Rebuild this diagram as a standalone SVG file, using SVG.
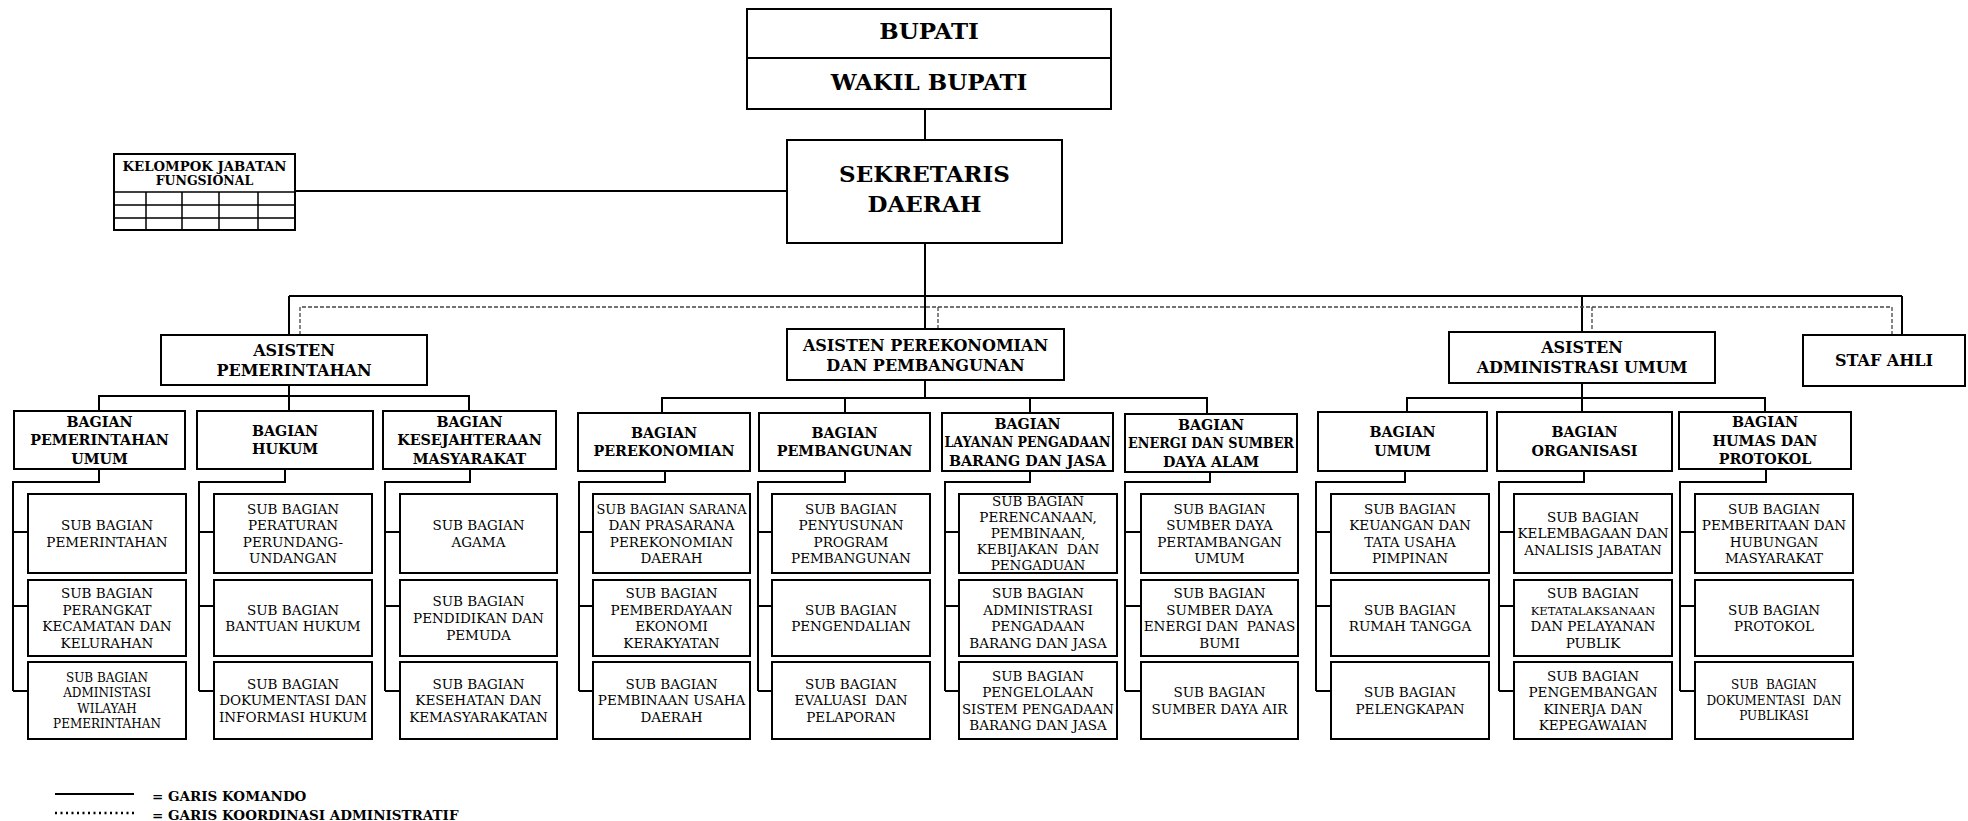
<svg xmlns="http://www.w3.org/2000/svg" width="1968" height="821" viewBox="0 0 1968 821">
<style>
.box{fill:#fff;stroke:#000;stroke-width:2}
.ln{fill:none;stroke:#000;stroke-width:2}
.thin{fill:none;stroke:#000;stroke-width:1.5}
.dash{fill:none;stroke:#444;stroke-width:1.3;stroke-dasharray:4 2}
.dot{fill:none;stroke:#000;stroke-width:2.5;stroke-dasharray:2 3.5}
text{font-family:"DejaVu Serif","Liberation Serif",serif;fill:#000;text-anchor:middle}
.big{font-weight:bold;font-size:23px}
.kj{font-weight:bold;font-size:12.5px}
.as{font-weight:bold;font-size:16px}
.hb{font-weight:bold;font-size:14.3px}
.st{font-size:13.5px}
.sm{font-size:12px}
.pre{white-space:pre}
.lg{font-weight:bold;font-size:13.5px;text-anchor:start}
</style>
<rect width="1968" height="821" fill="#fff"/>

<g id="connectors">
<path class="ln" d="M925 109V140 M925 243V329 M295 191H787 M289 296H1902 M289 296V335 M1582 296V332 M1902 296V335"/>
<path class="dash" d="M300 335V307H1892V335 M938 307V329 M1592 307V332"/>
<path class="ln" d="M289 385V411 M99 411V396H469V411"/>
<path class="ln" d="M925 380V398 M662 413V398H1207V414 M845 398V413 M1030 398V413"/>
<path class="ln" d="M1582 383V412 M1407 412V398H1765V412"/>
<path class="ln" d="M99 469V482H13V691 M13 532H28 M13 606H28 M13 691H28"/>
<path class="ln" d="M285 469V482H199V691 M199 532H214 M199 606H214 M199 691H214"/>
<path class="ln" d="M470 469V482H385V691 M385 532H400 M385 606H400 M385 691H400"/>
<path class="ln" d="M665 471V482H579V691 M579 532H593 M579 606H593 M579 691H593"/>
<path class="ln" d="M845 471V482H758V691 M758 532H772 M758 606H772 M758 691H772"/>
<path class="ln" d="M1030 471V482H945V691 M945 532H959 M945 606H959 M945 691H959"/>
<path class="ln" d="M1210 472V482H1125V691 M1125 532H1141 M1125 606H1141 M1125 691H1141"/>
<path class="ln" d="M1405 471V482H1316V691 M1316 532H1331 M1316 606H1331 M1316 691H1331"/>
<path class="ln" d="M1584 471V482H1499V691 M1499 532H1514 M1499 606H1514 M1499 691H1514"/>
<path class="ln" d="M1766 469V482H1680V691 M1680 532H1695 M1680 606H1695 M1680 691H1695"/>
</g>

<g id="n-bupati">
<rect class="box" x="747" y="9" width="364" height="100"/>
<line class="ln" x1="747" y1="58" x2="1111" y2="58"/>
<text class="big" x="929" y="39">BUPATI</text>
<text class="big" x="929" y="90">WAKIL BUPATI</text>
</g>
<g id="n-sekda">
<rect class="box" x="787" y="140" width="275" height="103"/>
<text class="big" x="924.5" y="182">SEKRETARIS</text>
<text class="big" x="924.5" y="212">DAERAH</text>
</g>
<g id="n-kjf">
<rect class="box" x="114" y="154" width="181" height="76"/>
<path class="thin" d="M114 192H295 M114 205H295 M114 218H295 M146 192V230 M182 192V230 M219 192V230 M258 192V230"/>
<text class="kj" x="204.5" y="171" textLength="164" lengthAdjust="spacingAndGlyphs">KELOMPOK JABATAN</text>
<text class="kj" x="204.5" y="185">FUNGSIONAL</text>
</g>

<g id="n-as-pem">
<rect class="box" x="161" y="335" width="266" height="50"/>
<text class="as" x="294" y="356">ASISTEN</text>
<text class="as" x="294" y="376">PEMERINTAHAN</text>
</g>
<g id="n-as-perek">
<rect class="box" x="787" y="329" width="277" height="51"/>
<text class="as" x="925.5" y="351">ASISTEN PEREKONOMIAN</text>
<text class="as" x="925.5" y="371">DAN PEMBANGUNAN</text>
</g>
<g id="n-as-adm">
<rect class="box" x="1449" y="332" width="266" height="51"/>
<text class="as" x="1582" y="353">ASISTEN</text>
<text class="as" x="1582" y="373">ADMINISTRASI UMUM</text>
</g>
<g id="n-staf-ahli">
<rect class="box" x="1803" y="335" width="162" height="51"/>
<text class="as" x="1884" y="366">STAF AHLI</text>
</g>

<g id="n-b-pemum">
<rect class="box" x="14" y="411" width="171" height="58"/>
<text class="hb"><tspan x="99.5" y="426.6">BAGIAN</tspan><tspan x="99.5" y="445.1">PEMERINTAHAN</tspan><tspan x="99.5" y="463.6">UMUM</tspan></text>
</g>
<g id="n-b-hukum">
<rect class="box" x="197" y="411" width="176" height="58"/>
<text class="hb"><tspan x="285" y="435.9">BAGIAN</tspan><tspan x="285" y="454.4">HUKUM</tspan></text>
</g>
<g id="n-b-kesra">
<rect class="box" x="383" y="411" width="173" height="58"/>
<text class="hb"><tspan x="469.5" y="426.6">BAGIAN</tspan><tspan x="469.5" y="445.1">KESEJAHTERAAN</tspan><tspan x="469.5" y="463.6">MASYARAKAT</tspan></text>
</g>
<g id="n-b-perek">
<rect class="box" x="578" y="413" width="172" height="58"/>
<text class="hb"><tspan x="664" y="437.9">BAGIAN</tspan><tspan x="664" y="456.4">PEREKONOMIAN</tspan></text>
</g>
<g id="n-b-pemb">
<rect class="box" x="759" y="413" width="171" height="58"/>
<text class="hb"><tspan x="844.5" y="437.9">BAGIAN</tspan><tspan x="844.5" y="456.4">PEMBANGUNAN</tspan></text>
</g>
<g id="n-b-lpbj">
<rect class="box" x="942" y="413" width="171" height="58"/>
<text class="hb" x="1027.5" y="428.6">BAGIAN</text>
<text class="hb" x="1027.5" y="447.1" textLength="166" lengthAdjust="spacingAndGlyphs">LAYANAN PENGADAAN</text>
<text class="hb" x="1027.5" y="465.6">BARANG DAN JASA</text>
</g>
<g id="n-b-esda">
<rect class="box" x="1125" y="414" width="172" height="58"/>
<text class="hb" x="1211" y="429.6">BAGIAN</text>
<text class="hb" x="1211" y="448.1" textLength="166" lengthAdjust="spacingAndGlyphs">ENERGI DAN SUMBER</text>
<text class="hb" x="1211" y="466.6">DAYA ALAM</text>
</g>
<g id="n-b-umum">
<rect class="box" x="1318" y="412" width="169" height="59"/>
<text class="hb"><tspan x="1402.5" y="437.4">BAGIAN</tspan><tspan x="1402.5" y="455.9">UMUM</tspan></text>
</g>
<g id="n-b-org">
<rect class="box" x="1497" y="412" width="175" height="59"/>
<text class="hb"><tspan x="1584.5" y="437.4">BAGIAN</tspan><tspan x="1584.5" y="455.9">ORGANISASI</tspan></text>
</g>
<g id="n-b-humas">
<rect class="box" x="1679" y="412" width="172" height="57"/>
<text class="hb"><tspan x="1765" y="427.1">BAGIAN</tspan><tspan x="1765" y="445.6">HUMAS DAN</tspan><tspan x="1765" y="464.1">PROTOKOL</tspan></text>
</g>

<!-- Group 1 -->
<g id="n-sb-pemerintahan">
<rect class="box" x="28" y="494" width="158" height="79"/>
<text class="st"><tspan x="107" y="530.1">SUB BAGIAN</tspan><tspan x="107" y="546.7">PEMERINTAHAN</tspan></text>
</g>
<g id="n-sb-perangkat">
<rect class="box" x="28" y="580" width="158" height="76"/>
<text class="st"><tspan x="107" y="598">SUB BAGIAN</tspan><tspan x="107" y="614.6">PERANGKAT</tspan><tspan x="107" y="631.2">KECAMATAN DAN</tspan><tspan x="107" y="647.8">KELURAHAN</tspan></text>
</g>
<g id="n-sb-adwil">
<rect class="box" x="28" y="662" width="158" height="77"/>
<text class="st sm"><tspan x="107" y="681.6">SUB BAGIAN</tspan><tspan x="107" y="697.1">ADMINISTASI</tspan><tspan x="107" y="712.6">WILAYAH</tspan><tspan x="107" y="728.1">PEMERINTAHAN</tspan></text>
</g>
<!-- Group 2 -->
<g id="n-sb-perundangan">
<rect class="box" x="214" y="494" width="158" height="79"/>
<text class="st"><tspan x="293" y="513.5">SUB BAGIAN</tspan><tspan x="293" y="530.1">PERATURAN</tspan><tspan x="293" y="546.7">PERUNDANG-</tspan><tspan x="293" y="563.3">UNDANGAN</tspan></text>
</g>
<g id="n-sb-bantuan-hukum">
<rect class="box" x="214" y="580" width="158" height="76"/>
<text class="st"><tspan x="293" y="614.6">SUB BAGIAN</tspan><tspan x="293" y="631.2">BANTUAN HUKUM</tspan></text>
</g>
<g id="n-sb-dok-hukum">
<rect class="box" x="214" y="662" width="158" height="77"/>
<text class="st"><tspan x="293" y="688.8">SUB BAGIAN</tspan><tspan x="293" y="705.4">DOKUMENTASI DAN</tspan><tspan x="293" y="722">INFORMASI HUKUM</tspan></text>
</g>
<!-- Group 3 -->
<g id="n-sb-agama">
<rect class="box" x="400" y="494" width="157" height="79"/>
<text class="st"><tspan x="478.5" y="530.1">SUB BAGIAN</tspan><tspan x="478.5" y="546.7">AGAMA</tspan></text>
</g>
<g id="n-sb-pendidikan">
<rect class="box" x="400" y="580" width="157" height="76"/>
<text class="st"><tspan x="478.5" y="606.3">SUB BAGIAN</tspan><tspan x="478.5" y="622.9">PENDIDIKAN DAN</tspan><tspan x="478.5" y="639.5">PEMUDA</tspan></text>
</g>
<g id="n-sb-kesehatan">
<rect class="box" x="400" y="662" width="157" height="77"/>
<text class="st"><tspan x="478.5" y="688.8">SUB BAGIAN</tspan><tspan x="478.5" y="705.4">KESEHATAN DAN</tspan><tspan x="478.5" y="722">KEMASYARAKATAN</tspan></text>
</g>
<!-- Group 4 -->
<g id="n-sb-sarana">
<rect class="box" x="593" y="494" width="157" height="79"/>
<text class="st" x="671.5" y="513.5" textLength="150" lengthAdjust="spacingAndGlyphs">SUB BAGIAN SARANA</text>
<text class="st"><tspan x="671.5" y="530.1">DAN PRASARANA</tspan><tspan x="671.5" y="546.7">PEREKONOMIAN</tspan><tspan x="671.5" y="563.3">DAERAH</tspan></text>
</g>
<g id="n-sb-pemberdayaan">
<rect class="box" x="593" y="580" width="157" height="76"/>
<text class="st"><tspan x="671.5" y="598">SUB BAGIAN</tspan><tspan x="671.5" y="614.6">PEMBERDAYAAN</tspan><tspan x="671.5" y="631.2">EKONOMI</tspan><tspan x="671.5" y="647.8">KERAKYATAN</tspan></text>
</g>
<g id="n-sb-usaha">
<rect class="box" x="593" y="662" width="157" height="77"/>
<text class="st"><tspan x="671.5" y="688.8">SUB BAGIAN</tspan><tspan x="671.5" y="705.4">PEMBINAAN USAHA</tspan><tspan x="671.5" y="722">DAERAH</tspan></text>
</g>
<!-- Group 5 -->
<g id="n-sb-penyusunan">
<rect class="box" x="772" y="494" width="158" height="79"/>
<text class="st"><tspan x="851" y="513.5">SUB BAGIAN</tspan><tspan x="851" y="530.1">PENYUSUNAN</tspan><tspan x="851" y="546.7">PROGRAM</tspan><tspan x="851" y="563.3">PEMBANGUNAN</tspan></text>
</g>
<g id="n-sb-pengendalian">
<rect class="box" x="772" y="580" width="158" height="76"/>
<text class="st"><tspan x="851" y="614.6">SUB BAGIAN</tspan><tspan x="851" y="631.2">PENGENDALIAN</tspan></text>
</g>
<g id="n-sb-evaluasi">
<rect class="box" x="772" y="662" width="158" height="77"/>
<text class="st pre"><tspan x="851" y="688.8">SUB BAGIAN</tspan><tspan x="851" y="705.4">EVALUASI  DAN</tspan><tspan x="851" y="722">PELAPORAN</tspan></text>
</g>
<!-- Group 6 -->
<g id="n-sb-perencanaan">
<rect class="box" x="959" y="494" width="158" height="79"/>
<text class="st pre"><tspan x="1038" y="506.4">SUB BAGIAN</tspan><tspan x="1038" y="522.4">PERENCANAAN,</tspan><tspan x="1038" y="538.4">PEMBINAAN,</tspan><tspan x="1038" y="554.4">KEBIJAKAN  DAN</tspan><tspan x="1038" y="570.4">PENGADUAN</tspan></text>
</g>
<g id="n-sb-adm-pbj">
<rect class="box" x="959" y="580" width="158" height="76"/>
<text class="st"><tspan x="1038" y="598">SUB BAGIAN</tspan><tspan x="1038" y="614.6">ADMINISTRASI</tspan><tspan x="1038" y="631.2">PENGADAAN</tspan><tspan x="1038" y="647.8">BARANG DAN JASA</tspan></text>
</g>
<g id="n-sb-sistem-pbj">
<rect class="box" x="959" y="662" width="158" height="77"/>
<text class="st"><tspan x="1038" y="680.5">SUB BAGIAN</tspan><tspan x="1038" y="697.1">PENGELOLAAN</tspan><tspan x="1038" y="730.3">BARANG DAN JASA</tspan></text>
<text class="st" x="1038" y="713.7" textLength="152" lengthAdjust="spacingAndGlyphs">SISTEM PENGADAAN</text>
</g>
<!-- Group 7 -->
<g id="n-sb-tambang">
<rect class="box" x="1141" y="494" width="157" height="79"/>
<text class="st"><tspan x="1219.5" y="513.5">SUB BAGIAN</tspan><tspan x="1219.5" y="530.1">SUMBER DAYA</tspan><tspan x="1219.5" y="546.7">PERTAMBANGAN</tspan><tspan x="1219.5" y="563.3">UMUM</tspan></text>
</g>
<g id="n-sb-energi">
<rect class="box" x="1141" y="580" width="157" height="76"/>
<text class="st pre"><tspan x="1219.5" y="598">SUB BAGIAN</tspan><tspan x="1219.5" y="614.6">SUMBER DAYA</tspan><tspan x="1219.5" y="631.2">ENERGI DAN  PANAS</tspan><tspan x="1219.5" y="647.8">BUMI</tspan></text>
</g>
<g id="n-sb-air">
<rect class="box" x="1141" y="662" width="157" height="77"/>
<text class="st"><tspan x="1219.5" y="697.1">SUB BAGIAN</tspan><tspan x="1219.5" y="713.7">SUMBER DAYA AIR</tspan></text>
</g>
<!-- Group 8 -->
<g id="n-sb-keuangan">
<rect class="box" x="1331" y="494" width="158" height="79"/>
<text class="st"><tspan x="1410" y="513.5">SUB BAGIAN</tspan><tspan x="1410" y="530.1">KEUANGAN DAN</tspan><tspan x="1410" y="546.7">TATA USAHA</tspan><tspan x="1410" y="563.3">PIMPINAN</tspan></text>
</g>
<g id="n-sb-rumah-tangga">
<rect class="box" x="1331" y="580" width="158" height="76"/>
<text class="st"><tspan x="1410" y="614.6">SUB BAGIAN</tspan><tspan x="1410" y="631.2">RUMAH TANGGA</tspan></text>
</g>
<g id="n-sb-pelengkapan">
<rect class="box" x="1331" y="662" width="158" height="77"/>
<text class="st"><tspan x="1410" y="697.1">SUB BAGIAN</tspan><tspan x="1410" y="713.7">PELENGKAPAN</tspan></text>
</g>
<!-- Group 9 -->
<g id="n-sb-kelembagaan">
<rect class="box" x="1514" y="494" width="158" height="79"/>
<text class="st"><tspan x="1593" y="521.8">SUB BAGIAN</tspan><tspan x="1593" y="538.4">KELEMBAGAAN DAN</tspan><tspan x="1593" y="555">ANALISIS JABATAN</tspan></text>
</g>
<g id="n-sb-ketatalaksanaan">
<rect class="box" x="1514" y="580" width="158" height="76"/>
<text class="st"><tspan x="1593" y="598">SUB BAGIAN</tspan><tspan x="1593" y="614.6" font-size="11.5">KETATALAKSANAAN</tspan><tspan x="1593" y="631.2">DAN PELAYANAN</tspan><tspan x="1593" y="647.8">PUBLIK</tspan></text>
</g>
<g id="n-sb-kepegawaian">
<rect class="box" x="1514" y="662" width="158" height="77"/>
<text class="st"><tspan x="1593" y="680.5">SUB BAGIAN</tspan><tspan x="1593" y="697.1">PENGEMBANGAN</tspan><tspan x="1593" y="713.7">KINERJA DAN</tspan><tspan x="1593" y="730.3">KEPEGAWAIAN</tspan></text>
</g>
<!-- Group 10 -->
<g id="n-sb-pemberitaan">
<rect class="box" x="1695" y="494" width="158" height="79"/>
<text class="st"><tspan x="1774" y="513.5">SUB BAGIAN</tspan><tspan x="1774" y="530.1">PEMBERITAAN DAN</tspan><tspan x="1774" y="546.7">HUBUNGAN</tspan><tspan x="1774" y="563.3">MASYARAKAT</tspan></text>
</g>
<g id="n-sb-protokol">
<rect class="box" x="1695" y="580" width="158" height="76"/>
<text class="st"><tspan x="1774" y="614.6">SUB BAGIAN</tspan><tspan x="1774" y="631.2">PROTOKOL</tspan></text>
</g>
<g id="n-sb-publikasi">
<rect class="box" x="1695" y="662" width="158" height="77"/>
<text class="st sm pre"><tspan x="1774" y="689.4">SUB  BAGIAN</tspan><tspan x="1774" y="704.9">DOKUMENTASI  DAN</tspan><tspan x="1774" y="720.4">PUBLIKASI</tspan></text>
</g>

<g id="legend">
<path class="ln" d="M55 794H134"/>
<path class="dot" d="M55 813H134"/>
<text class="lg" x="152" y="801">= GARIS KOMANDO</text>
<text class="lg" x="152" y="820">= GARIS KOORDINASI ADMINISTRATIF</text>
</g>
</svg>
